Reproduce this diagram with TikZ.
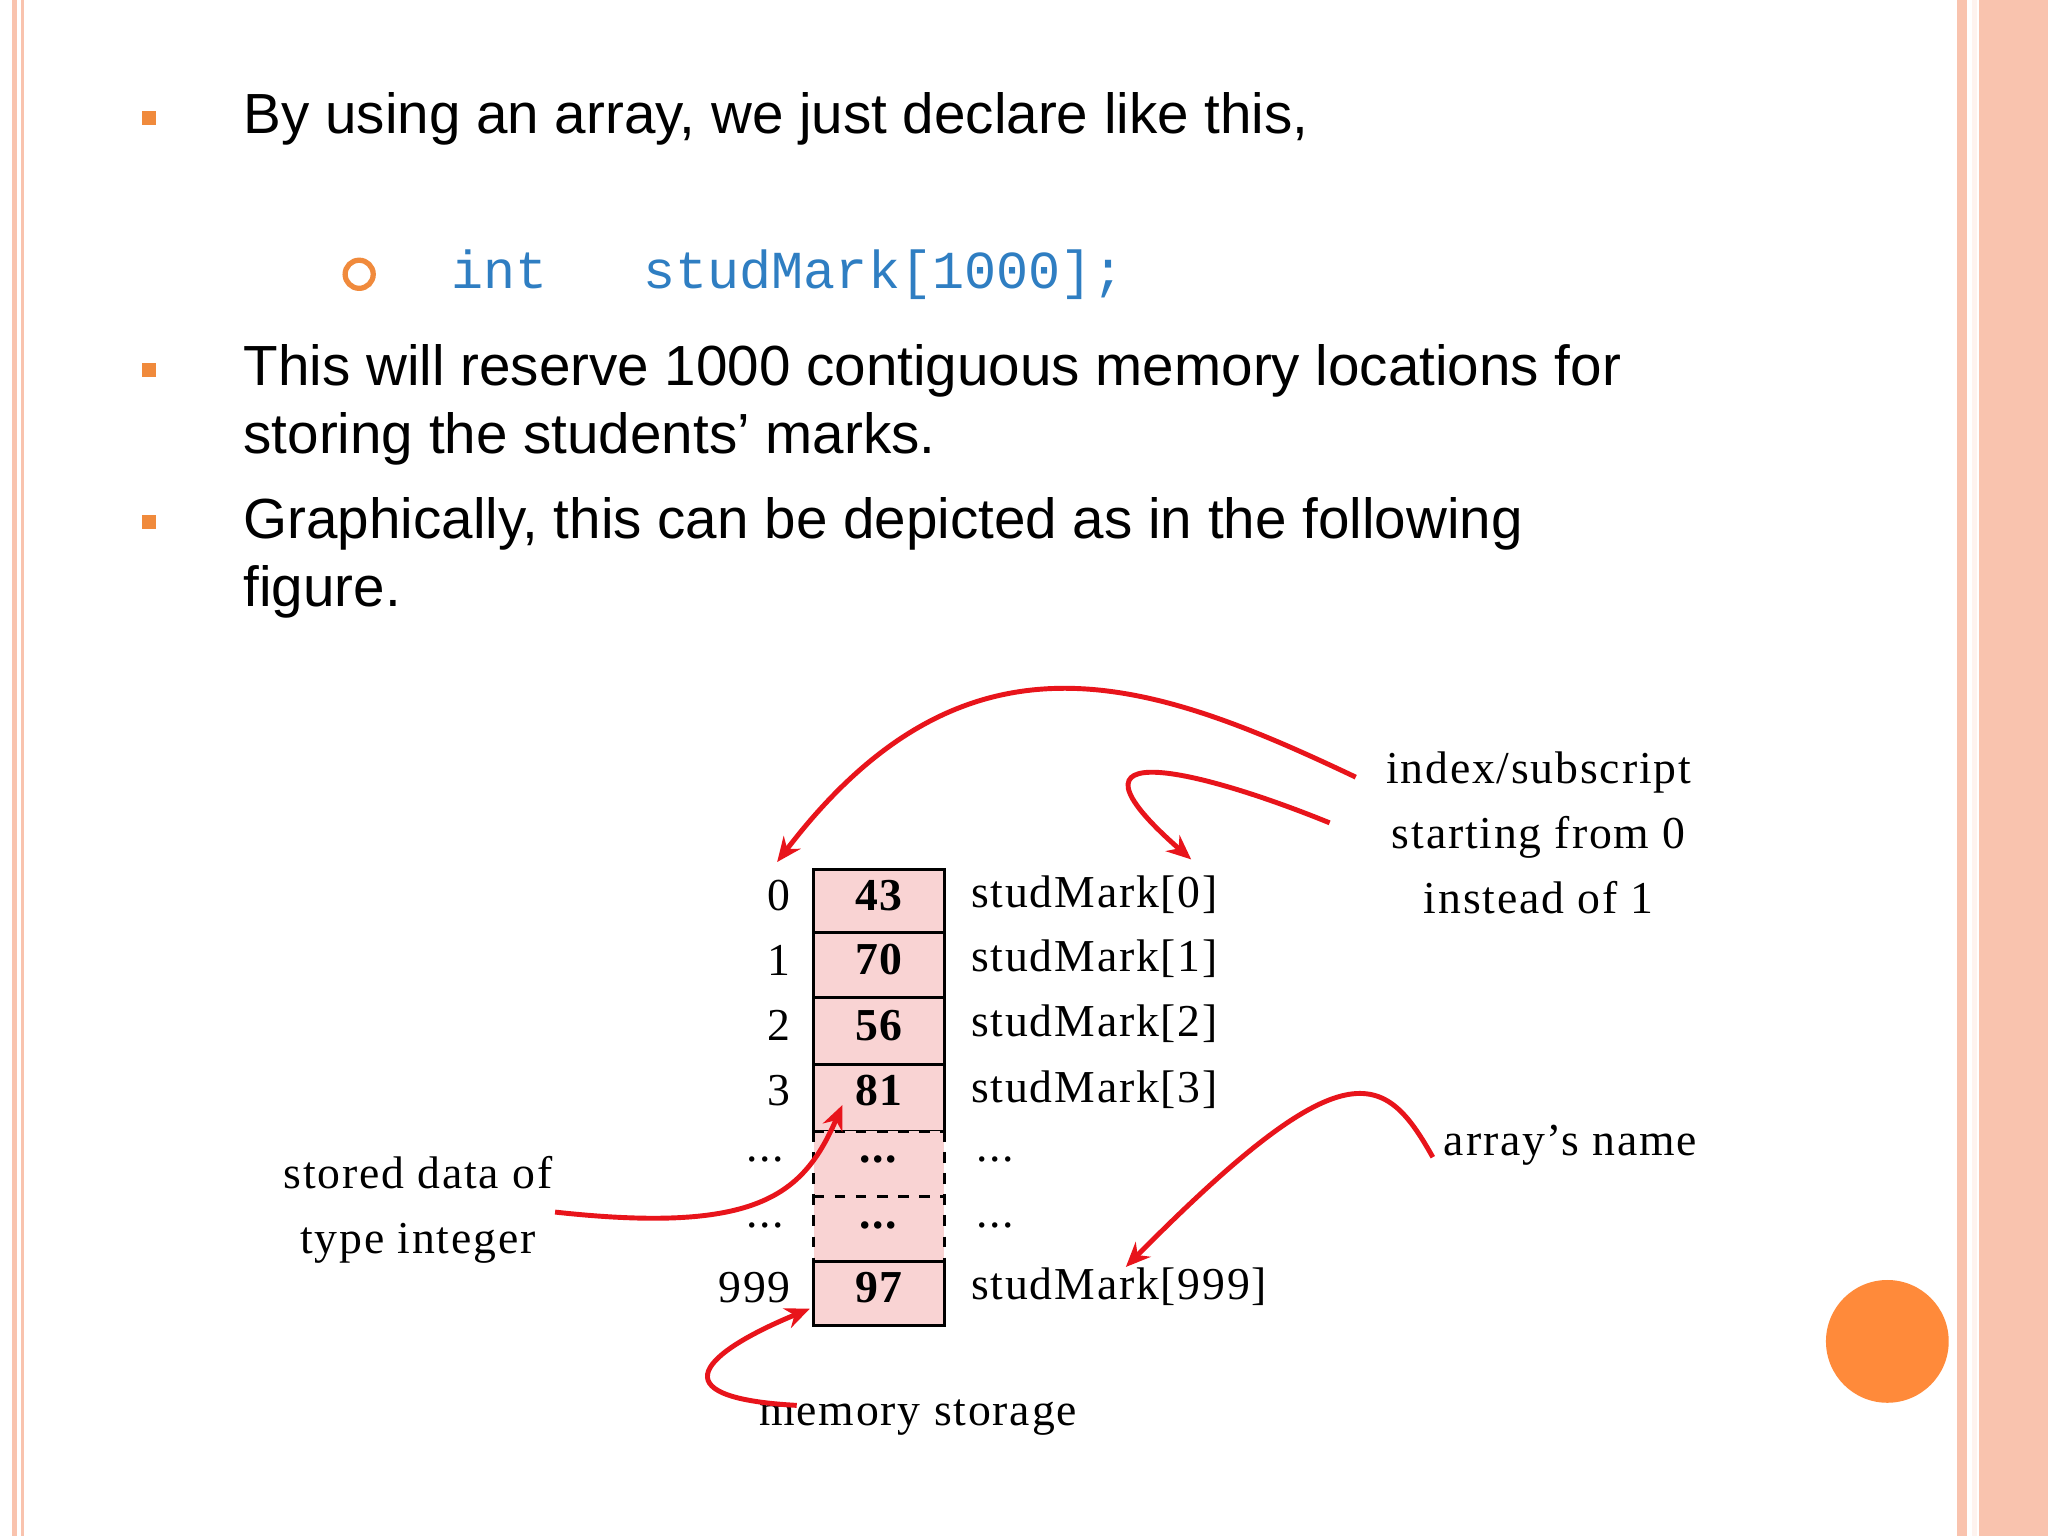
\documentclass[tikz,border=0pt]{standalone}
\usepackage{fontspec}
\setmainfont{Liberation Serif}[LetterSpace=4]
\newfontfamily\sansf{Liberation Sans}
\newfontfamily\monof{Liberation Mono}
\usetikzlibrary{arrows.meta}
\definecolor{salmon}{HTML}{F9C3AE}
\definecolor{bul}{HTML}{F08A3C}
\definecolor{codeblue}{HTML}{2F7EC2}
\definecolor{cellpink}{HTML}{F9D3D3}
\definecolor{arr}{HTML}{E8141B}
\definecolor{dot}{HTML}{FF8A3A}
\tikzset{
  body/.style={anchor=base west,font=\sansf\fontsize{16.1}{20}\selectfont,inner sep=0},
  sq/.style={fill=bul,minimum size=4pt,inner sep=0},
  lab/.style={font=\fontsize{13}{15}\selectfont,inner sep=0},
  val/.style={font=\bfseries\fontsize{13}{15}\selectfont,inner sep=0},
  cell/.style={fill=cellpink,draw=black,line width=0.8pt},
  red arrow/.style={draw=arr,line width=1.4pt,-{Stealth[length=7pt,width=6pt]}}
}
\begin{document}
\begin{tikzpicture}[x=0.013061cm,y=-0.013061cm]
\useasboundingbox (0,0) rectangle (1568,1176);
\fill[white] (0,0) rectangle (1568,1176);
\fill[salmon] (9,0) rectangle (13,1176);
\fill[salmon] (16,0) rectangle (18,1176);
\fill[salmon] (1498,0) rectangle (1506,1176);
\fill[salmon] (1515,0) rectangle (1568,1176);
\fill[white!80!salmon] (1510,0) rectangle (1514,1176);
% bullets
\node[sq] (b1) at (114,90) {};
\node[sq] (b2) at (114,283) {};
\node[sq] (b3) at (114,400) {};
\node[body] (t1) at (186,102) {By using an array, we just declare like this,};
\node[draw=bul,line width=1.5pt,circle,minimum size=8pt,inner sep=0] (b4) at (275,210) {};
\node[body,font=\monof\fontsize{15.2}{20}\selectfont,text=codeblue] (code) at (345,221) {int\ \ \ studMark[1000];};
\node[body] (t2) at (186,295) {This will reserve 1000 contiguous memory locations for};
\node[body] (t2b) at (186,347) {storing the students’ marks.};
\node[body] (t3) at (186,412) {Graphically, this can be depicted as in the following};
\node[body] (t3b) at (186,464) {figure.};
% cells
\draw[cell] (623,666) rectangle (723,866);
\draw[line width=0.8pt] (623,714)--(723,714) (623,764)--(723,764) (623,815)--(723,815);
\fill[cellpink] (623,866) rectangle (723,966);
\draw[line width=0.8pt,dashed] (623,866)--(623,966) (723,866)--(723,966) (623,866)--(723,866) (623,916)--(723,916) (623,966)--(723,966);
\draw[cell] (623,966) rectangle (723,1015);
\foreach \y/\v/\i/\n in {686/43/0/c0,735/70/1/c1,785/56/2/c2,835/81/3/c3,986/97/999/c9}{
  \node[val] (v\n) at (673,\y) {\v};
  \node[lab,anchor=east] (i\n) at (606,\y) {\i};
}
\node[lab] (vd1) at (673,888) {\textbf{...}};
\node[lab] (vd2) at (673,938) {\textbf{...}};
\node[lab] (id1) at (586,888) {...};
\node[lab] (id2) at (586,938) {...};
\node[lab] (nd1) at (762,888) {...};
\node[lab] (nd2) at (762,938) {...};
\node[lab,anchor=west] (n0) at (743,685) {studMark[0]};
\node[lab,anchor=west] (n1) at (743,734) {studMark[1]};
\node[lab,anchor=west] (n2) at (743,784) {studMark[2]};
\node[lab,anchor=west] (n3) at (743,834) {studMark[3]};
\node[lab,anchor=west] (n9) at (743,985) {studMark[999]};
% annotations
\node[lab,align=center,font=\fontsize{13}{18.5}\selectfont] (idx) at (1178,638) {index/subscript\\starting from 0\\instead of 1};
\node[lab,anchor=west] (an) at (1105,877) {array's name};
\node[lab,align=center,font=\fontsize{13}{18.5}\selectfont] (sd) at (320,926) {stored data of\\type integer};
\node[lab] (ms) at (703,1085) {memory storage};
\coordinate (a1s) at (1038,595);
\coordinate (a1e) at (595,660);
\coordinate (a2s) at (1018,630);
\coordinate (a2e) at (912,658);
\coordinate (a3s) at (425,928);
\coordinate (a3e) at (645,846);
\coordinate (a4s) at (1097,886);
\coordinate (a4e) at (862,970);
\coordinate (a5s) at (610,1076);
\coordinate (a5e) at (620,1002);
\draw[red arrow] (a1s) .. controls (880,520) and (740,470) .. (a1e);
\draw[red arrow] (a2s) .. controls (920,590) and (800,560) .. (a2e);
\draw[red arrow] (a3s) .. controls (580,945) and (615,915) .. (a3e);
\draw[red arrow] (a4s) .. controls (1060,820) and (1030,800) .. (a4e);
\draw[red arrow] (a5s) .. controls (500,1070) and (540,1035) .. (a5e);
\fill[dot] (1445,1027) circle (47);
\end{tikzpicture}
\end{document}
